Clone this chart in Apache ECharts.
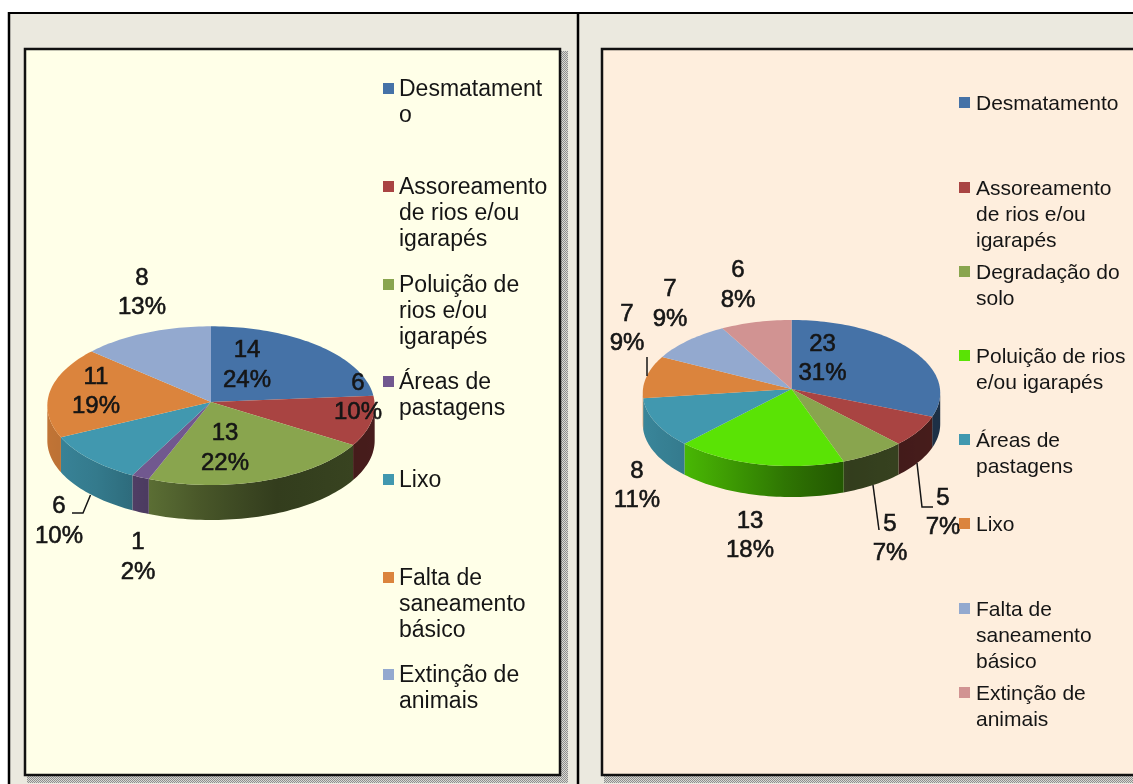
<!DOCTYPE html>
<html>
<head>
<meta charset="utf-8">
<style>html,body{margin:0;padding:0;background:#fff}#chart{width:1133px;height:784px}</style>
<script src="https://cdn.jsdelivr.net/npm/echarts@6/dist/echarts.min.js"></script>
</head>
<body>
<div id="chart"></div>
<script>
// Values per slice, clockwise from twelve o'clock
const leftCategories = ['Desmatamento', 'Assoreamento de rios e/ou igarapés', 'Poluição de rios e/ou igarapés', 'Áreas de pastagens', 'Lixo', 'Falta de saneamento básico', 'Extinção de animais'];
const leftValues = [14, 6, 13, 1, 6, 11, 8];
const leftPercents = ['24%', '10%', '22%', '2%', '10%', '19%', '13%'];
const leftLegendLines = [['Desmatament', 'o'], ['Assoreamento', 'de rios e/ou', 'igarapés'], ['Poluição de', 'rios e/ou', 'igarapés'], ['Áreas de', 'pastagens'], ['Lixo'], ['Falta de', 'saneamento', 'básico'], ['Extinção de', 'animais']];

const rightCategories = ['Desmatamento', 'Assoreamento de rios e/ou igarapés', 'Degradação do solo', 'Poluição de rios e/ou igarapés', 'Áreas de pastagens', 'Lixo', 'Falta de saneamento básico', 'Extinção de animais'];
const rightValues = [23, 5, 5, 13, 8, 7, 7, 6];
const rightPercents = ['31%', '7%', '7%', '18%', '11%', '9%', '9%', '8%'];
const rightLegendLines = [['Desmatamento'], ['Assoreamento', 'de rios e/ou', 'igarapés'], ['Degradação do', 'solo'], ['Poluição de rios', 'e/ou igarapés'], ['Áreas de', 'pastagens'], ['Lixo'], ['Falta de', 'saneamento', 'básico'], ['Extinção de', 'animais']];

// Slice colours
const leftColors = ['#4572a7', '#a94442', '#89a54e', '#71588f', '#4198af', '#db843d', '#93a9cf'];
const rightColors = ['#4572a7', '#a94442', '#89a54e', '#5ae305', '#4198af', '#db843d', '#93a9cf', '#d19392'];

// Layout of both pies: centre, radii, perspective strength, wall height, label anchors, leader lines
const leftLayout = {
  cx: 211, apexY: 402, rx: 163.5, ry: 79.2, persp: 0.046, depth: 35,
  labelAt: [[247, 365.5], [358, 398], [225, 448.5], [138, 557.5], [59, 521.5], [96, 392], [142, 293]],
  leaders: [[[90.5, 495], [83, 513], [72, 513]]],
  legendFont: 23, legendIconX: 383, legendTextX: 399,
  legendY: [89, 187, 285, 382, 480, 578, 675]
};
const rightLayout = {
  cx: 791.5, apexY: 389, rx: 148.5, ry: 72.8, persp: 0.055, depth: 31,
  labelAt: [[822.5, 359], [943, 513], [890, 539], [750, 536], [637, 486], [627, 329], [670, 304.5], [738, 285.5]],
  leaders: [[[917, 463], [922, 507], [933, 507]], [[873, 485], [879, 530]], [[647, 357], [647, 376]]],
  legendFont: 21, legendIconX: 959, legendTextX: 976,
  legendY: [103, 188, 272, 356, 440, 524, 609, 693]
};

const FONT = '"Liberation Sans", Arial, sans-serif';
const INK = '#151515';

// Wall brightness across the pie width (-1 left edge, +1 right edge)
const wallShade = [[-1, 0.88], [-0.7, 0.8], [-0.37, 0.66], [0, 0.5], [0.4, 0.37], [1, 0.42]];
function shadeAt(u) {
  for (let i = 1; i < wallShade.length; i++) {
    if (u <= wallShade[i][0]) {
      const a = wallShade[i - 1], b = wallShade[i];
      return a[1] + (b[1] - a[1]) * (u - a[0]) / (b[0] - a[0]);
    }
  }
  return wallShade[wallShade.length - 1][1];
}
function scaleColor(hex, k) {
  const n = parseInt(hex.slice(1), 16);
  const c = [n >> 16, (n >> 8) & 255, n & 255].map(v => Math.round(v * k));
  return 'rgb(' + c.join(',') + ')';
}
// Rim of the tilted disc, seen in perspective: the far side is foreshortened
function arcPoints(l, a0, a1, dy) {
  const pts = [];
  const steps = Math.max(2, Math.ceil((a1 - a0) / (Math.PI / 120)));
  for (let i = 0; i <= steps; i++) {
    const t = a0 + (a1 - a0) * i / steps;
    const w = 1 + l.persp * Math.cos(t);
    pts.push([l.cx + l.rx * Math.sin(t) / w, l.apexY - l.ry * Math.cos(t) / w + dy]);
  }
  return pts;
}
function sliceAngles(values, i) {
  const total = values.reduce((s, v) => s + v, 0);
  const before = values.slice(0, i).reduce((s, v) => s + v, 0);
  return [before / total * 2 * Math.PI, (before + values[i]) / total * 2 * Math.PI];
}

// One pie: walls, top faces, leaders, value labels and the key beside it
function pieSeries(values, percents, colors, legendLines, l) {
  const data = values.map(v => [v]);
  const common = { type: 'custom', coordinateSystem: 'none', silent: true, animation: false, data };
  const wallFrom = Math.acos(-l.persp), wallTo = 2 * Math.PI - wallFrom;
  return [
    Object.assign({}, common, {
      z: 2,
      renderItem(params) {
        const i = params.dataIndex;
        const [a0, a1] = sliceAngles(values, i);
        const from = Math.max(a0, wallFrom), to = Math.min(a1, wallTo);
        if (to <= from) return { type: 'group', children: [] };
        const upper = arcPoints(l, from, to, 0);
        const lower = arcPoints(l, from, to, l.depth).reverse();
        const xs = upper.map(p => p[0]);
        const x0 = Math.min(...xs), x1 = Math.max(...xs);
        const stops = [];
        for (let k = 0; k <= 8; k++) {
          const x = x0 + (x1 - x0) * k / 8;
          stops.push({ offset: k / 8, color: scaleColor(colors[i], shadeAt((x - l.cx) / l.rx)) });
        }
        return {
          type: 'polygon',
          shape: { points: upper.concat(lower) },
          style: { fill: new echarts.graphic.LinearGradient(x0, 0, x1, 0, stops, true) }
        };
      }
    }),
    Object.assign({}, common, {
      z: 3,
      renderItem(params) {
        const i = params.dataIndex;
        const [a0, a1] = sliceAngles(values, i);
        return {
          type: 'polygon',
          shape: { points: [[l.cx, l.apexY]].concat(arcPoints(l, a0, a1, 0)) },
          style: { fill: colors[i] }
        };
      }
    }),
    Object.assign({}, common, {
      z: 4,
      data: l.leaders.map((_, i) => [i]),
      renderItem(params) {
        return {
          type: 'polyline',
          shape: { points: l.leaders[params.dataIndex] },
          style: { fill: 'none', stroke: INK, lineWidth: 1.5 }
        };
      }
    }),
    Object.assign({}, common, {
      z: 5,
      renderItem(params, api) {
        const i = params.dataIndex;
        return {
          type: 'text',
          style: {
            x: l.labelAt[i][0], y: l.labelAt[i][1],
            text: api.value(0) + '\n' + percents[i],
            align: 'center', verticalAlign: 'middle',
            font: '24px ' + FONT, lineHeight: 29.5,
            fill: INK, stroke: INK, lineWidth: 0.6
          }
        };
      }
    }),
    Object.assign({}, common, {
      z: 5,
      renderItem(params) {
        const i = params.dataIndex;
        const y = l.legendY[i];
        return {
          type: 'group',
          children: [
            { type: 'rect', shape: { x: l.legendIconX, y: y - 6, width: 11, height: 11 }, style: { fill: colors[i] } },
            {
              type: 'text',
              style: {
                x: l.legendTextX, y: y - 12,
                text: legendLines[i].join('\n'),
                align: 'left', verticalAlign: 'top',
                font: l.legendFont + 'px ' + FONT, lineHeight: 26, fill: INK
              }
            }
          ]
        };
      }
    })
  ];
}

// Dithered drop shadow under the two panels
function ditherPattern() {
  const c = document.createElement('canvas');
  c.width = c.height = 2;
  const g = c.getContext('2d');
  g.fillStyle = '#d8d8d2'; g.fillRect(0, 0, 2, 2);
  g.fillStyle = '#8e8e8e'; g.fillRect(0, 0, 1, 1); g.fillRect(1, 1, 1, 1);
  return { image: c, repeat: 'repeat' };
}
const dither = ditherPattern();
function panel(x, y, w, h, fill) {
  return [
    { type: 'rect', shape: { x: x + w, y: y + 3, width: 7, height: h + 4 }, style: { fill: dither } },
    { type: 'rect', shape: { x: x + 3, y: y + h, width: w + 4, height: 7 }, style: { fill: dither } },
    { type: 'rect', shape: { x: x + 1, y: y + 1, width: w - 2, height: h - 2 }, style: { fill, stroke: '#111', lineWidth: 2.5 } }
  ];
}

const chart = echarts.init(document.getElementById('chart'), null, { renderer: 'canvas' });
chart.setOption({
  animation: false,
  backgroundColor: '#ffffff',
  textStyle: { fontFamily: FONT },
  graphic: { elements: [
    { type: 'rect', shape: { x: 9, y: 13, width: 1124, height: 771 }, style: { fill: '#ebe9df' } },
    { type: 'line', shape: { x1: 8, y1: 13, x2: 1133, y2: 13 }, style: { stroke: '#000', lineWidth: 2 } },
    { type: 'line', shape: { x1: 9, y1: 12, x2: 9, y2: 784 }, style: { stroke: '#000', lineWidth: 2.5 } },
    { type: 'line', shape: { x1: 578, y1: 13, x2: 578, y2: 784 }, style: { stroke: '#000', lineWidth: 2.5 } },
    ...panel(24, 48, 537, 728, '#ffffe8'),
    ...panel(601, 48, 540, 728, '#feeedd')
  ] },
  series: [
    ...pieSeries(leftValues, leftPercents, leftColors, leftLegendLines, leftLayout),
    ...pieSeries(rightValues, rightPercents, rightColors, rightLegendLines, rightLayout)
  ]
});
</script>
</body>
</html>
